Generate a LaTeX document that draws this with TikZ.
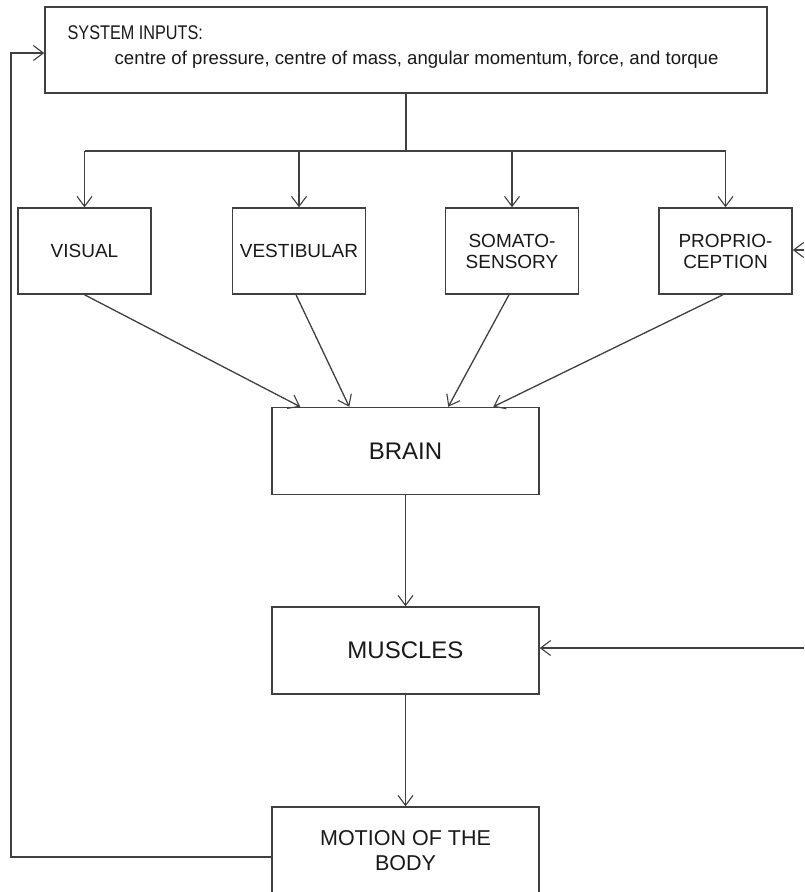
\documentclass[tikz,border=0pt]{standalone}
\usepackage{fontspec}
\setmainfont{Liberation Sans}
\newfontfamily\condfont[FakeStretch=0.82]{Liberation Sans}
\usetikzlibrary{arrows.meta,calc}
\begin{document}
\begin{tikzpicture}[x=1pt,y=-1pt,
  line width=1.3pt,
  color=black!75,
  arr/.style={-{Straight Barb[length=10pt,width=15pt,line width=1.1pt]}},
  box/.style={draw=black!75,line width=1.5pt,fill=white,text=black!90,inner sep=2pt,align=center},
  small/.style={box,minimum width=133pt,minimum height=86pt,font=\fontsize{19}{21}\selectfont},
  big/.style={box,minimum width=267pt,minimum height=87pt,font=\fontsize{24}{26}\selectfont},
  lbl/.style={inner sep=0pt,anchor=base west,text=black!90}
]
\useasboundingbox (0,0) rectangle (804,892);
\fill[white] (0,0) rectangle (804,892);

\node[box,minimum width=722pt,minimum height=86pt] (sys) at (406,50) {};
\node[lbl,font=\condfont\fontsize{19.8}{22}\selectfont] (sysa) at (67,39) {SYSTEM INPUTS:};
\node[lbl,font=\fontsize{18.6}{22}\selectfont] (sysb) at (114,64) {centre of pressure, centre of mass, angular momentum, force, and torque};

\node[small] (vis) at (84.5,251) {VISUAL};
\node[small] (ves) at (299,251) {VESTIBULAR};
\node[small] (som) at (512,251) {SOMATO-\\SENSORY};
\node[small] (pro) at (725.5,251) {PROPRIO-\\CEPTION};

\node[big] (brain) at (405.5,451) {BRAIN};
\node[big] (mus) at (405.5,650.5) {MUSCLES};
\node[big,font=\fontsize{21.5}{25}\selectfont,text depth=0pt] (mot) at (405.5,850.5) {MOTION OF THE\\BODY};

\coordinate (split) at (406,151);
\coordinate (proin) at (804,250);
\coordinate (musin) at (804,648);
\coordinate (fbl) at (11,857);
\coordinate (fbt) at (11,53);

% distribution from system inputs
\draw (sys.south) -- (split);
\draw (vis.north |- split) -- (pro.north |- split);
\draw[arr] (vis.north |- split) -- (vis.north);
\draw[arr] (ves.north |- split) -- (ves.north);
\draw[arr] (som.north |- split) -- (som.north);
\draw[arr] (pro.north |- split) -- (pro.north);

% senses to brain
\draw[arr] (vis.south) -- ($(brain.north west)+(29,0)$);
\draw[arr] ($(ves.south)+(-3,0)$) -- ($(brain.north west)+(78,0)$);
\draw[arr] ($(som.south)+(-3,0)$) -- ($(brain.north west)+(177,0)$);
\draw[arr] ($(pro.south)+(-2.5,0)$) -- ($(brain.north west)+(222,0)$);

% chain
\draw[arr] (brain.south) -- (mus.north);
\draw[arr] (mus.south) -- (mot.north);

% side inputs
\draw[arr] (proin) -- (pro.east |- proin);
\draw[arr] (musin) -- (mus.east |- musin);

% feedback
\draw[arr] (mot.west |- fbl) -- (fbl) -- (fbt) -- (sys.west |- fbt);
\end{tikzpicture}
\end{document}
